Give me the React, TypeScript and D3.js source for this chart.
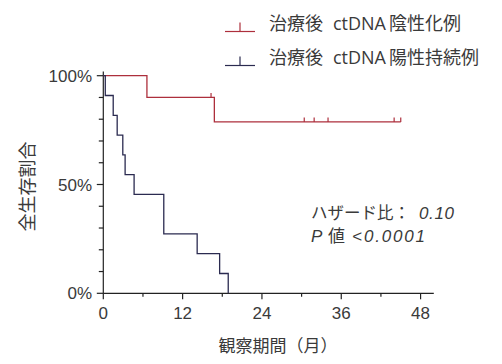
import React from "react";
import * as d3 from "d3";

const negTimes = [0, 6.6, 16.8, 45];
const negSurv = [1, 0.9, 0.7875, 0.7875];
const negCensor = [16.3, 30.4, 31.9, 34.0, 44.0, 45.0];
const posTimes = [0, 0.3, 1.5, 2.1, 2.95, 3.3, 4.66, 9.15, 14.2, 17.6, 18.9];
const posSurv = [1, 0.909, 0.818, 0.727, 0.636, 0.545, 0.455, 0.273, 0.182, 0.091, 0];
const posCensor: number[] = [];
const xTicks = [0, 12, 24, 36, 48];
const xMinor = [6, 18, 30, 42];
const yTicks = [0, 0.5, 1];
const yMinor = [0.1, 0.2, 0.3, 0.4, 0.6, 0.7, 0.8, 0.9];
const legendParts = [
  ["治療後", "ctDNA", "陰性化例"],
  ["治療後", "ctDNA", "陽性持続例"],
];
const hazardLabel = "ハザード比：";
const hazardValue = "0.10";
const pLabel = "値";
const pValue = "0.0001";

const RED = "#ad2f3c";
const NAVY = "#2b2b50";
const AX = "#222";
const TXT = "#3a3a3a";
const CJK = "'Noto Sans CJK JP', 'Noto Sans', sans-serif";
const LAT = "'Liberation Sans', Arial, sans-serif";
const LEG_LAT = "'Open Sans', 'Noto Sans', sans-serif";

export default function App() {
  const W = 502, H = 364;
  const x = d3.scaleLinear().domain([0, 50]).range([103.3, 433.8]);
  const y = d3.scaleLinear().domain([0, 1]).range([293.3, 75.7]);
  const line = d3
    .line<[number, number]>()
    .x((d) => x(d[0]))
    .y((d) => y(d[1]))
    .curve(d3.curveStepAfter);
  const negPts = negTimes.map((t, i) => [t, negSurv[i]] as [number, number]);
  const posPts = posTimes.map((t, i) => [t, posSurv[i]] as [number, number]);
  const survAt = (times: number[], surv: number[], t: number) => {
    let s = surv[0];
    times.forEach((tt, i) => {
      if (tt <= t) s = surv[i];
    });
    return s;
  };
  const series = [
    { pts: negPts, color: RED, censor: negCensor, times: negTimes, surv: negSurv },
    { pts: posPts, color: NAVY, censor: posCensor, times: posTimes, surv: posSurv },
  ];
  const legendY = [31.5, 65.5];
  return (
    <svg width={W} height={H} style={{ position: "absolute", left: 0, top: 0, background: "#fff" }}>
      {/* legend */}
      {legendParts.map((parts, i) => {
        const c = i === 0 ? RED : NAVY;
        const ly = legendY[i];
        return (
          <g key={i}>
            <line x1={225} x2={255} y1={ly} y2={ly} stroke={c} strokeWidth={1.2} />
            <line x1={240} x2={240} y1={ly - 9} y2={ly} stroke={c} strokeWidth={1.2} />
            <text y={ly - 1.5} fontSize={18} fill={TXT} fontFamily={CJK}>
              <tspan x={269}>{parts[0]}</tspan>
            </text>
            <text x={333} y={ly - 1.5} fontSize={18} fill={TXT} fontFamily={LEG_LAT} textLength={53} lengthAdjust="spacingAndGlyphs">
              {parts[1]}
            </text>
            <text x={389} y={ly - 1.5} fontSize={18} fill={TXT} fontFamily={CJK}>
              {parts[2]}
            </text>
          </g>
        );
      })}
      {/* axes */}
      <line x1={x(0)} x2={x(0)} y1={71.5} y2={y(0)} stroke={AX} strokeWidth={1.2} />
      <line x1={x(0)} x2={x(50)} y1={y(0)} y2={y(0)} stroke={AX} strokeWidth={1.2} />
      {yTicks.map((t) => (
        <g key={"y" + t}>
          <line x1={x(0) - 6.5} x2={x(0)} y1={y(t)} y2={y(t)} stroke={AX} strokeWidth={1.2} />
          <text x={92} y={y(t) + 6} textAnchor="end" fontSize={17} fill={TXT} fontFamily={LAT}>
            {d3.format(".0%")(t)}
          </text>
        </g>
      ))}
      {yMinor.map((t) => (
        <line key={"ym" + t} x1={x(0) - 4.5} x2={x(0)} y1={y(t)} y2={y(t)} stroke={AX} strokeWidth={1.2} />
      ))}
      {xTicks.map((t) => (
        <g key={"x" + t}>
          <line x1={x(t)} x2={x(t)} y1={y(0)} y2={y(0) + 6} stroke={AX} strokeWidth={1.2} />
          <text x={x(t)} y={318.5} textAnchor="middle" fontSize={17} fill={TXT} fontFamily={LAT}>
            {t}
          </text>
        </g>
      ))}
      {xMinor.map((t) => (
        <line key={"xm" + t} x1={x(t)} x2={x(t)} y1={y(0)} y2={y(0) + 3.5} stroke={AX} strokeWidth={1.2} />
      ))}
      {/* axis titles */}
      <text x={278} y={352} textAnchor="middle" fontSize={17} fill={TXT} fontFamily={CJK}>
        観察期間（月）
      </text>
      <text
        transform={`translate(34,${y(0.5) + 2}) rotate(-90)`}
        textAnchor="middle"
        fontSize={18}
        fill={TXT}
        fontFamily={CJK}
      >
        全生存割合
      </text>
      {/* curves */}
      {series.map((s, i) => (
        <g key={"s" + i}>
          <path d={line(s.pts) || ""} fill="none" stroke={s.color} strokeWidth={1.3} />
          {s.censor.map((c, j) => (
            <line
              key={j}
              x1={x(c)}
              x2={x(c)}
              y1={y(survAt(s.times, s.surv, c))}
              y2={y(survAt(s.times, s.surv, c)) - 4.5}
              stroke={s.color}
              strokeWidth={1.2}
            />
          ))}
        </g>
      ))}
      {/* stats */}
      <text x={311} y={219} fontSize={16.5} fill={TXT} fontFamily={CJK}>
        {hazardLabel}
      </text>
      <text x={419} y={219} fontSize={17} fill={TXT} fontFamily={LAT} fontStyle="italic" textLength={35} lengthAdjust="spacing">
        {hazardValue}
      </text>
      <text x={311} y={242} fontSize={17} fill={TXT} fontFamily={LAT} fontStyle="italic">
        P
      </text>
      <text x={328} y={242} fontSize={17} fill={TXT} fontFamily={CJK}>
        {pLabel}
      </text>
      <text x={352} y={242} fontSize={17} fill={TXT} fontFamily={LAT} fontStyle="italic">
        {"<"}
      </text>
      <text x={364} y={242} fontSize={17} fill={TXT} fontFamily={LAT} fontStyle="italic" textLength={61} lengthAdjust="spacing">
        {pValue}
      </text>
    </svg>
  );
}
